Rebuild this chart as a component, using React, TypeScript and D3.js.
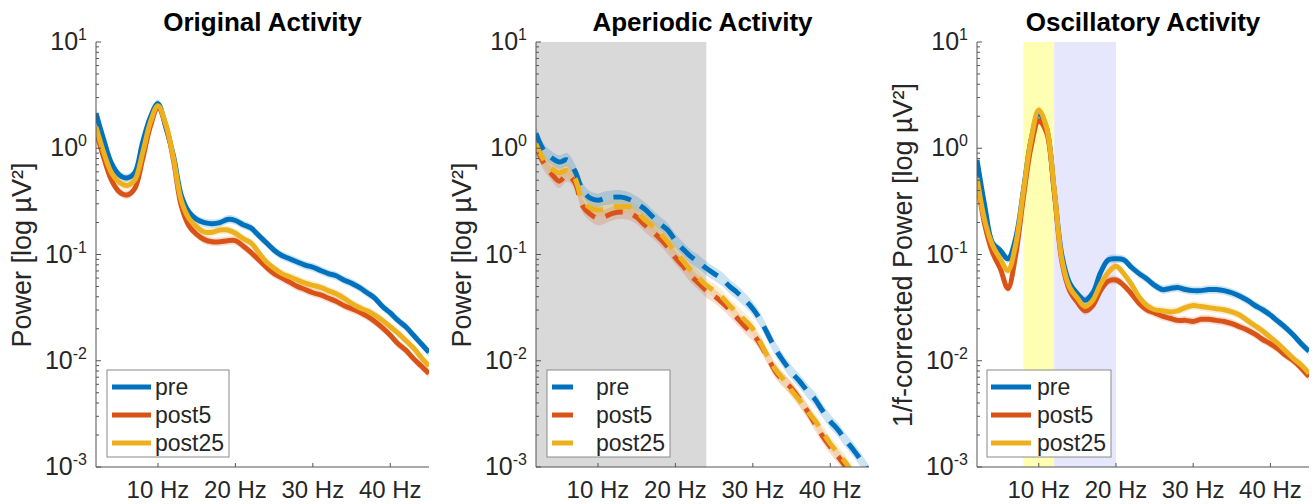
import React from 'react';
import * as d3 from 'd3';

// Frequencies (Hz)
const FREQS = [2,3,4,5,6,7,8,9,10,11,12,13,14,15,16,17,18,19,20,21,22,23,24,25,26,27,28,29,30,31,32,33,34,35,36,37,38,39,40,41,42,43,44,45];

// log10 power values
const ORIG_PRE = [0.33,0.08,-0.14,-0.25,-0.28,-0.23,0.05,0.29,0.42,0.20,-0.07,-0.44,-0.60,-0.67,-0.70,-0.71,-0.70,-0.67,-0.68,-0.72,-0.75,-0.82,-0.89,-0.96,-1.01,-1.04,-1.07,-1.10,-1.12,-1.15,-1.18,-1.20,-1.24,-1.27,-1.31,-1.36,-1.41,-1.49,-1.55,-1.62,-1.68,-1.76,-1.84,-1.92];
const ORIG_POST5 = [0.16,-0.09,-0.30,-0.41,-0.44,-0.38,-0.11,0.20,0.38,0.22,-0.11,-0.54,-0.73,-0.81,-0.86,-0.88,-0.88,-0.87,-0.87,-0.92,-0.98,-1.05,-1.12,-1.18,-1.22,-1.26,-1.30,-1.33,-1.36,-1.38,-1.41,-1.44,-1.48,-1.51,-1.54,-1.58,-1.63,-1.69,-1.76,-1.84,-1.90,-1.98,-2.05,-2.12];
const ORIG_POST25 = [0.20,-0.04,-0.23,-0.32,-0.35,-0.30,-0.05,0.24,0.40,0.23,-0.09,-0.49,-0.66,-0.74,-0.79,-0.79,-0.77,-0.77,-0.80,-0.85,-0.89,-0.98,-1.07,-1.13,-1.18,-1.21,-1.24,-1.27,-1.29,-1.31,-1.34,-1.37,-1.41,-1.46,-1.50,-1.53,-1.57,-1.62,-1.68,-1.74,-1.81,-1.88,-1.97,-2.05];

const APER_PRE = [0.14,-0.02,-0.09,-0.13,-0.11,-0.21,-0.39,-0.47,-0.49,-0.47,-0.46,-0.46,-0.48,-0.52,-0.57,-0.64,-0.71,-0.77,-0.87,-0.95,-1.02,-1.07,-1.13,-1.18,-1.23,-1.30,-1.36,-1.43,-1.51,-1.62,-1.76,-1.90,-2.01,-2.11,-2.19,-2.28,-2.36,-2.47,-2.57,-2.65,-2.75,-2.84,-2.94,-3.05];
const APER_POST5 = [0.01,-0.14,-0.24,-0.31,-0.25,-0.32,-0.54,-0.62,-0.66,-0.64,-0.61,-0.60,-0.61,-0.65,-0.72,-0.78,-0.85,-0.93,-1.03,-1.11,-1.20,-1.27,-1.34,-1.39,-1.45,-1.52,-1.60,-1.68,-1.75,-1.85,-1.98,-2.11,-2.19,-2.26,-2.36,-2.47,-2.59,-2.71,-2.81,-2.90,-3.00,-3.11,-3.21,-3.31];
const APER_POST25 = [0.04,-0.11,-0.19,-0.23,-0.21,-0.28,-0.49,-0.56,-0.58,-0.57,-0.55,-0.55,-0.55,-0.60,-0.67,-0.73,-0.80,-0.88,-0.98,-1.06,-1.15,-1.22,-1.29,-1.34,-1.40,-1.48,-1.55,-1.62,-1.70,-1.83,-1.97,-2.09,-2.18,-2.28,-2.37,-2.47,-2.56,-2.67,-2.78,-2.87,-2.96,-3.07,-3.17,-3.28];

const OSC_PRE = [-0.11,-0.54,-0.89,-0.96,-1.04,-0.85,-0.40,0.08,0.33,0.19,-0.40,-1.01,-1.27,-1.37,-1.43,-1.36,-1.17,-1.05,-1.04,-1.05,-1.12,-1.18,-1.23,-1.29,-1.33,-1.32,-1.31,-1.33,-1.34,-1.34,-1.33,-1.33,-1.34,-1.36,-1.39,-1.43,-1.48,-1.52,-1.57,-1.63,-1.69,-1.76,-1.84,-1.91];
const OSC_POST5 = [-0.30,-0.72,-0.98,-1.13,-1.32,-1.01,-0.47,0.01,0.26,0.15,-0.41,-1.07,-1.34,-1.45,-1.53,-1.48,-1.34,-1.25,-1.24,-1.29,-1.37,-1.46,-1.52,-1.55,-1.58,-1.60,-1.62,-1.62,-1.63,-1.61,-1.61,-1.62,-1.63,-1.65,-1.68,-1.71,-1.75,-1.80,-1.84,-1.89,-1.95,-2.00,-2.07,-2.15];
const OSC_POST25 = [-0.28,-0.68,-0.91,-1.04,-1.15,-0.91,-0.41,0.08,0.36,0.20,-0.38,-1.05,-1.31,-1.41,-1.49,-1.43,-1.28,-1.17,-1.11,-1.18,-1.28,-1.40,-1.48,-1.52,-1.53,-1.54,-1.53,-1.50,-1.48,-1.49,-1.50,-1.51,-1.52,-1.54,-1.57,-1.62,-1.67,-1.72,-1.78,-1.84,-1.91,-1.98,-2.04,-2.12];

const SERIES_NAMES = ['pre', 'post5', 'post25'];
const COLORS = ['#0072BD', '#D95319', '#EDB120'];

const Y_EXPONENTS = [-3, -2, -1, 0, 1];
const X_TICKS = [10, 20, 30, 40];
const X_TICK_LABELS = ['10 Hz', '20 Hz', '30 Hz', '40 Hz'];

const APERIODIC_FIT_RANGE = [2, 24];
const ALPHA_BAND = [8, 12];
const BETA_BAND = [12, 20];

const W = 1315;
const H = 504;
const TOP = 42;
const BOTTOM = 467;
const FONT = '"Liberation Sans", Arial, Helvetica, sans-serif';
const TXT = '#262626';

type Panel = {
  left: number;
  right: number;
  title: string;
  ylabel: string;
  ylabelX: number;
  data: number[][];
  dashed: boolean;
  sem: number;
  shades: { range: number[]; color: string }[];
  legend: { x: number; w: number; s1: number; s2: number; tx: number };
};

const PANELS: Panel[] = [
  {
    left: 96, right: 429, title: 'Original Activity', ylabel: 'Power [log µV²]', ylabelX: 31,
    data: [ORIG_PRE, ORIG_POST5, ORIG_POST25], dashed: false, sem: 0.04, shades: [],
    legend: { x: 107, w: 122, s1: 112, s2: 151, tx: 155 },
  },
  {
    left: 536, right: 869, title: 'Aperiodic Activity', ylabel: 'Power [log µV²]', ylabelX: 471,
    data: [APER_PRE, APER_POST5, APER_POST25], dashed: true, sem: 0.065,
    shades: [{ range: APERIODIC_FIT_RANGE, color: '#d9d9d9' }],
    legend: { x: 547, w: 123, s1: 552, s2: 573, tx: 596 },
  },
  {
    left: 977, right: 1309, title: 'Oscillatory Activity', ylabel: '1/f-corrected Power [log µV²]', ylabelX: 912,
    data: [OSC_PRE, OSC_POST5, OSC_POST25], dashed: false, sem: 0.04,
    shades: [
      { range: ALPHA_BAND, color: '#ffffb3' },
      { range: BETA_BAND, color: '#e6e6fd' },
    ],
    legend: { x: 987, w: 124, s1: 991, s2: 1031, tx: 1037 },
  },
];

function PanelView({ p, idx }: { p: Panel; idx: number }) {
  const x = d3.scaleLinear().domain([2, 45]).range([p.left, p.right]);
  const y = d3.scaleLog().domain([1e-3, 10]).range([BOTTOM, TOP]);
  const line = d3
    .line<number>()
    .x((_, i) => x(FREQS[i]))
    .y((d) => y(Math.pow(10, d)))
    .curve(d3.curveCatmullRom.alpha(0.5));
  const area = d3
    .area<number>()
    .x((_, i) => x(FREQS[i]))
    .y0((d) => y(Math.pow(10, d - p.sem)))
    .y1((d) => y(Math.pow(10, d + p.sem)))
    .curve(d3.curveCatmullRom.alpha(0.5));

  const minor: number[] = [];
  for (let k = -3; k < 1; k++) for (let m = 2; m <= 9; m++) minor.push(m * Math.pow(10, k));

  const clipId = `clip${idx}`;
  const cx = (p.left + p.right) / 2;

  return (
    <g>
      <defs>
        <clipPath id={clipId}>
          <rect x={p.left} y={TOP} width={p.right - p.left} height={BOTTOM - TOP} />
        </clipPath>
      </defs>
      {p.shades.map((s, i) => (
        <rect key={i} x={x(s.range[0])} y={TOP} width={x(s.range[1]) - x(s.range[0])} height={BOTTOM - TOP} fill={s.color} />
      ))}
      <g clipPath={`url(#${clipId})`}>
        {p.data.map((d, i) => (
          <path key={'a' + i} d={area(d) || ''} fill={COLORS[i]} fillOpacity={0.2} stroke="none" />
        ))}
        {p.data.map((d, i) => (
          <path
            key={'l' + i}
            d={line(d) || ''}
            fill="none"
            stroke={COLORS[i]}
            strokeWidth={5}
            strokeDasharray={p.dashed ? '18 11' : undefined}
            strokeLinejoin="round"
          />
        ))}
      </g>
      {/* axes */}
      <line x1={p.left} x2={p.left} y1={TOP} y2={BOTTOM} stroke="#555" strokeWidth={1} />
      <line x1={p.left} x2={p.right} y1={BOTTOM} y2={BOTTOM} stroke="#555" strokeWidth={1} />
      {minor.map((v, i) => (
        <line key={'m' + i} x1={p.left} x2={p.left + 3} y1={y(v)} y2={y(v)} stroke="#555" strokeWidth={1} />
      ))}
      {Y_EXPONENTS.map((e) => (
        <g key={'y' + e}>
          <line x1={p.left} x2={p.left + 5} y1={y(Math.pow(10, e))} y2={y(Math.pow(10, e))} stroke="#555" strokeWidth={1} />
          <text x={p.left - 9} y={y(Math.pow(10, e)) + 8} textAnchor="end" fontSize={25} fill={TXT} fontFamily={FONT}>
            10<tspan dy={-10} fontSize={16}>{String(e)}</tspan>
          </text>
        </g>
      ))}
      {X_TICKS.map((t, i) => (
        <g key={'x' + t}>
          <line x1={x(t)} x2={x(t)} y1={BOTTOM} y2={BOTTOM - 4} stroke="#555" strokeWidth={1} />
          <text x={x(t)} y={498} textAnchor="middle" fontSize={24} fill={TXT} fontFamily={FONT}>
            {X_TICK_LABELS[i]}
          </text>
        </g>
      ))}
      <text x={cx} y={31} textAnchor="middle" fontSize={26} fontWeight="bold" fill="#000" fontFamily={FONT}>
        {p.title}
      </text>
      <text
        transform={`translate(${p.ylabelX},255) rotate(-90)`}
        textAnchor="middle"
        fontSize={27}
        fill={TXT}
        fontFamily={FONT}
      >
        {p.ylabel}
      </text>
      {/* legend */}
      <rect x={p.legend.x} y={370} width={p.legend.w} height={87} fill="#fff" stroke="#8a8a8a" strokeWidth={1} />
      {SERIES_NAMES.map((n, i) => {
        const ly = 387 + i * 28;
        return (
          <g key={'lg' + i}>
            <line x1={p.legend.s1} x2={p.legend.s2} y1={ly} y2={ly} stroke={COLORS[i]} strokeWidth={5} />
            <text x={p.legend.tx} y={ly + 8} fontSize={23} fill={TXT} fontFamily={FONT}>
              {n}
            </text>
          </g>
        );
      })}
    </g>
  );
}

export default function App() {
  return (
    <svg
      width={W}
      height={H}
      viewBox={`0 0 ${W} ${H}`}
      style={{ position: 'absolute', left: 0, top: 0, background: '#fff' }}
    >
      <rect x={0} y={0} width={W} height={H} fill="#fff" />
      {PANELS.map((p, i) => (
        <PanelView key={i} p={p} idx={i} />
      ))}
    </svg>
  );
}
